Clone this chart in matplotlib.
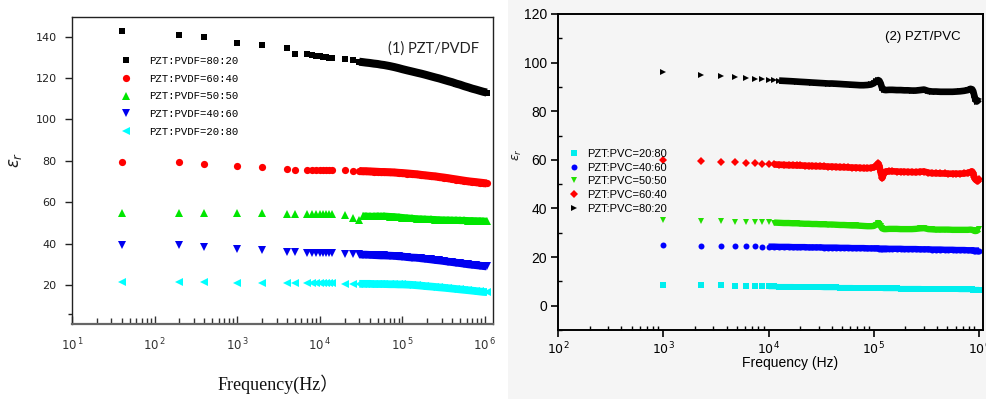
import matplotlib
matplotlib.use("Agg")
import matplotlib.pyplot as plt
from matplotlib.ticker import FixedLocator, NullFormatter, LogLocator, MultipleLocator
from matplotlib.patches import Rectangle

# ---------------- data: (1) PZT/PVDF ----------------
freq_pvdf = [40, 200, 400, 1000, 2000, 4000, 5000, 7000, 8000, 9000,
             10000, 11000, 12000, 13000, 14000, 20000, 25000, 30000, 33000, 36000,
             40000, 45000, 50000, 55000, 60000, 70000, 80000, 90000, 100000, 115000,
             130000, 150000, 170000, 190000, 220000, 250000, 280000, 320000, 360000, 400000,
             450000, 500000, 560000, 630000, 700000, 780000, 860000, 950000, 1050000]
pvdf_80_20 = [142.5, 141.0, 140.0, 137.0, 136.0, 134.5, 131.5, 131.5, 131.0, 130.8,
              130.5, 130.3, 130.0, 129.8, 129.5, 129.0, 128.5, 127.9, 127.7, 127.5,
              127.3, 127.0, 126.8, 126.5, 126.3, 125.8, 125.3, 124.8, 124.3, 123.7,
              123.2, 122.6, 122.1, 121.6, 120.9, 120.3, 119.8, 119.1, 118.5, 118.0,
              117.3, 116.8, 116.1, 115.5, 114.9, 114.4, 113.9, 113.4, 113.0]
pvdf_60_40 = [79.5, 79.3, 78.6, 77.6, 77.2, 76.0, 75.8, 75.6, 75.6, 75.5,
              75.5, 75.5, 75.4, 75.4, 75.4, 75.4, 75.2, 75.1, 75.0, 75.0,
              74.9, 74.8, 74.7, 74.6, 74.6, 74.5, 74.4, 74.2, 74.1, 73.9,
              73.7, 73.5, 73.2, 73.0, 72.7, 72.5, 72.2, 71.9, 71.6, 71.3,
              71.0, 70.7, 70.4, 70.1, 69.9, 69.7, 69.5, 69.3, 69.1]
pvdf_50_50 = [55.0, 55.0, 55.0, 54.8, 54.7, 54.3, 54.3, 54.2, 54.2, 54.2,
              54.2, 54.2, 54.2, 54.2, 54.1, 54.0, 52.4, 51.6, 53.3, 53.3,
              53.2, 53.2, 53.3, 53.2, 53.3, 53.1, 53.0, 52.8, 52.6, 52.4,
              52.2, 52.0, 51.9, 51.8, 51.7, 51.6, 51.5, 51.4, 51.4, 51.3,
              51.3, 51.2, 51.2, 51.1, 51.1, 51.0, 51.0, 50.9, 50.8]
pvdf_40_60 = [39.5, 39.2, 38.4, 37.4, 36.8, 36.0, 35.8, 35.6, 35.5, 35.5,
              35.5, 35.5, 35.5, 35.4, 35.4, 35.2, 35.0, 34.8, 34.7, 34.7,
              34.6, 34.5, 34.4, 34.3, 34.3, 34.2, 34.1, 33.9, 33.8, 33.5,
              33.3, 33.2, 32.9, 32.7, 32.4, 32.1, 31.9, 31.6, 31.3, 31.1,
              30.8, 30.6, 30.3, 30.0, 29.8, 29.6, 29.4, 29.2, 29.0]
pvdf_20_80 = [21.6, 21.6, 21.5, 21.2, 21.2, 21.1, 21.0, 20.9, 20.8, 20.8,
              20.8, 20.8, 20.8, 20.8, 20.8, 20.7, 20.7, 20.6, 20.6, 20.6,
              20.6, 20.5, 20.5, 20.5, 20.5, 20.4, 20.4, 20.3, 20.3, 20.2,
              20.1, 19.9, 19.7, 19.5, 19.3, 19.1, 18.9, 18.7, 18.5, 18.3,
              18.1, 17.9, 17.7, 17.5, 17.3, 17.1, 16.9, 16.7, 16.6]
labels_pvdf = ["PZT:PVDF=80:20", "PZT:PVDF=60:40", "PZT:PVDF=50:50",
               "PZT:PVDF=40:60", "PZT:PVDF=20:80"]

# ---------------- data: (2) PZT/PVC ----------------
freq_pvc = [1000, 2300, 3500, 4800, 6100, 7400, 8700, 10000, 11300, 12600,
            14000, 15500, 17000, 18500, 20000, 22000, 24000, 26000, 28500, 31000,
            34000, 37000, 40000, 44000, 48000, 52000, 57000, 62000, 68000, 74000,
            80000, 87000, 94000, 100000, 105000, 110000, 113000, 116000, 120000, 125000,
            130000, 140000, 150000, 165000, 180000, 195000, 210000, 230000, 250000, 275000,
            300000, 330000, 360000, 390000, 430000, 470000, 510000, 560000, 610000, 660000,
            720000, 780000, 830000, 860000, 880000, 900000, 920000, 950000, 980000, 1000000]
pvc_80_20 = [96.1, 95.0, 94.3, 93.9, 93.6, 93.3, 93.1, 92.9, 92.8, 92.6,
             92.5, 92.4, 92.3, 92.2, 92.1, 92.0, 91.9, 91.8, 91.7, 91.6,
             91.5, 91.4, 91.4, 91.3, 91.2, 91.1, 91.0, 90.9, 90.8, 90.7,
             90.7, 90.8, 91.0, 91.5, 92.3, 92.8, 92.5, 91.5, 89.5, 88.8,
             88.7, 88.8, 88.8, 88.7, 88.7, 88.6, 88.6, 88.5, 88.5, 88.7,
             88.9, 88.3, 88.1, 88.1, 88.0, 88.0, 88.0, 88.0, 88.1, 88.2,
             88.4, 88.7, 89.2, 89.0, 88.2, 86.5, 85.0, 84.0, 84.5, 85.0]
pvc_60_40 = [60.0, 59.5, 59.2, 59.0, 58.7, 58.5, 58.3, 58.2, 58.1, 58.0,
             57.9, 57.8, 57.8, 57.7, 57.7, 57.6, 57.5, 57.5, 57.4, 57.4,
             57.3, 57.2, 57.2, 57.1, 57.0, 57.0, 56.9, 56.8, 56.8, 56.7,
             56.6, 56.6, 56.7, 56.9, 57.5, 58.5, 57.5, 55.0, 52.5, 54.5,
             55.2, 55.3, 55.3, 55.2, 55.1, 55.1, 55.0, 55.0, 54.9, 55.1,
             55.2, 54.7, 54.5, 54.5, 54.4, 54.4, 54.3, 54.3, 54.3, 54.3,
             54.4, 54.6, 55.0, 55.2, 54.5, 53.0, 52.0, 51.5, 51.5, 52.0]
pvc_50_50 = [35.3, 35.0, 34.8, 34.6, 34.6, 34.4, 34.3, 34.3, 34.2, 34.1,
             34.0, 34.0, 33.9, 33.9, 33.8, 33.7, 33.7, 33.6, 33.6, 33.5,
             33.5, 33.4, 33.4, 33.3, 33.2, 33.2, 33.1, 33.0, 33.0, 32.9,
             32.8, 32.7, 32.7, 32.8, 33.3, 34.0, 33.8, 32.8, 31.8, 31.5,
             31.5, 31.6, 31.6, 31.6, 31.5, 31.5, 31.5, 31.5, 31.6, 31.8,
             31.9, 31.5, 31.4, 31.3, 31.3, 31.3, 31.3, 31.2, 31.2, 31.2,
             31.2, 31.2, 31.3, 31.2, 31.0, 30.8, 30.7, 30.8, 31.2, 31.5]
pvc_40_60 = [24.8, 24.7, 24.6, 24.5, 24.4, 24.4, 24.3, 24.3, 24.3, 24.2,
             24.2, 24.2, 24.1, 24.1, 24.1, 24.1, 24.0, 24.0, 24.0, 24.0,
             23.9, 23.9, 23.9, 23.9, 23.8, 23.8, 23.8, 23.7, 23.7, 23.7,
             23.7, 23.6, 23.6, 23.6, 23.6, 23.6, 23.5, 23.5, 23.5, 23.5,
             23.5, 23.4, 23.4, 23.4, 23.4, 23.3, 23.3, 23.3, 23.3, 23.2,
             23.2, 23.2, 23.1, 23.1, 23.1, 23.0, 23.0, 23.0, 22.9, 22.9,
             22.9, 22.8, 22.8, 22.8, 22.8, 22.7, 22.7, 22.7, 22.7, 22.7]
pvc_20_80 = [8.6, 8.5, 8.4, 8.1, 8.0, 8.0, 7.9, 7.9, 7.9, 7.8,
             7.8, 7.8, 7.8, 7.7, 7.7, 7.7, 7.6, 7.6, 7.6, 7.6,
             7.5, 7.5, 7.5, 7.5, 7.4, 7.4, 7.4, 7.4, 7.3, 7.3,
             7.3, 7.3, 7.2, 7.2, 7.2, 7.2, 7.2, 7.2, 7.2, 7.1,
             7.1, 7.1, 7.1, 7.1, 7.0, 7.0, 7.0, 7.0, 7.0, 7.0,
             6.9, 6.9, 6.9, 6.9, 6.8, 6.8, 6.8, 6.8, 6.8, 6.7,
             6.7, 6.7, 6.7, 6.7, 6.6, 6.6, 6.6, 6.6, 6.6, 6.6]
labels_pvc = ["PZT:PVC=20:80", "PZT:PVC=40:60", "PZT:PVC=50:50",
              "PZT:PVC=60:40", "PZT:PVC=80:20"]

left_ticks = [20, 40, 60, 80, 100, 120, 140]
right_ticks = [0, 20, 40, 60, 80, 100, 120]

W, H = 986, 399
fig = plt.figure(figsize=(W / 100, H / 100), dpi=100)
fig.patch.set_facecolor("white")

# textured light background for the right half
fig.add_artist(Rectangle((508 / W, 0), 1 - 508 / W, 1, transform=fig.transFigure,
                         facecolor="#f5f5f5", edgecolor="none", zorder=-10))

def px(x0, y0, x1, y1):
    return [x0 / W, 1 - y1 / H, (x1 - x0) / W, (y1 - y0) / H]

# ---------------- left panel ----------------
ax1 = fig.add_axes(px(72, 17, 493, 324))
ax1.set_xscale("log")
ax1.set_xlim(10, 1.25e6)
ax1.set_ylim(1.2, 149.5)
# (values, marker, colour, marker size, band width, index where the dense sweep starts)
series1 = [(pvdf_80_20, "s", "black", 4.6, 5.8, 17), (pvdf_60_40, "o", "#ff0000", 5.2, 5.8, 17),
           (pvdf_50_50, "^", "#00e600", 5.4, 5.2, 18), (pvdf_40_60, "v", "#0000f0", 5.4, 5.6, 17),
           (pvdf_20_80, "<", "#00ffff", 5.4, 5.6, 17)]
handles1 = []
for (vals, mk, col, ms, lw, i0), lab in zip(series1, labels_pvdf):
    ax1.plot(freq_pvdf[i0:], vals[i0:], linestyle="-", color=col, linewidth=lw,
             solid_capstyle="butt")
    h, = ax1.plot(freq_pvdf, vals, linestyle="none", marker=mk, color=col,
                  markersize=ms, markeredgewidth=0, label=lab)
    handles1.append(h)

for s in ["top", "right", "left"]:
    ax1.spines[s].set_color("#222222")
    ax1.spines[s].set_linewidth(1.0)
ax1.spines["bottom"].set_color("#666666")
ax1.spines["bottom"].set_linewidth(1.6)

ax1.yaxis.set_major_locator(FixedLocator(left_ticks))
ax1.yaxis.set_minor_locator(FixedLocator([6]))
ax1.tick_params(axis="y", which="both", direction="out", length=5, width=1,
                labelsize=8, colors="#222222", pad=6)
ax1.tick_params(axis="y", which="minor", length=3)
ax1.xaxis.set_major_locator(FixedLocator([1e1, 1e2, 1e3, 1e4, 1e5, 1e6]))
ax1.xaxis.set_minor_locator(LogLocator(base=10, subs=[2, 3, 4, 5, 6, 7, 8, 9]))
ax1.xaxis.set_minor_formatter(NullFormatter())
ax1.set_xticklabels([r"$10^{\,1}$", r"$10^{\,2}$", r"$10^{\,3}$", r"$10^{\,4}$",
                     r"$10^{\,5}$", r"$10^{\,6}$"])
ax1.tick_params(axis="x", which="major", direction="in", length=6, width=1,
                labelsize=8.5, colors="#333333", pad=9)
ax1.tick_params(axis="x", which="minor", direction="in", length=4, width=1,
                colors="#333333")
for lbl in ax1.get_yticklabels():
    lbl.set_family("DejaVu Sans")

fig.text(15 / W, 1 - 160 / H, r"$\varepsilon_r$", rotation=90, fontsize=12,
         ha="center", va="center", color="#222222")
fig.text(278 / W, 1 - 384 / H, "Frequency(Hz）", fontsize=13, ha="center", va="center",
         family=["Liberation Serif", "Noto Sans CJK SC"], color="#111111")
fig.text(388 / W, 1 - 49 / H, "(1) PZT/PVDF", fontsize=10.5, ha="left", va="center",
         family="Lato", color="#222222")

leg1 = ax1.legend(handles=handles1, loc="upper left",
                  bbox_to_anchor=(121 / W, 1 - 56 / H), bbox_transform=fig.transFigure,
                  frameon=False, prop={"family": "Liberation Mono", "size": 7.7},
                  handlelength=1.0, handletextpad=1.6, labelspacing=0.72,
                  borderpad=0, borderaxespad=0, markerscale=1.0)

# ---------------- right panel ----------------
ax2 = fig.add_axes(px(558, 14, 983, 330))
ax2.set_facecolor("#f5f5f5")
ax2.set_xscale("log")
ax2.set_xlim(100, 1.09e6)
ax2.set_ylim(-10, 120)
series2 = [(pvc_20_80, "s", "#00eeee", 3.8, 4.0, 7), (pvc_40_60, "o", "#0000ff", 4.3, 4.6, 7),
           (pvc_50_50, "v", "#22e000", 4.6, 4.6, 8), (pvc_60_40, "D", "#ff0000", 3.8, 4.8, 8),
           (pvc_80_20, ">", "black", 4.4, 4.8, 9)]
handles2 = []
for (vals, mk, col, ms, lw, i0), lab in zip(series2, labels_pvc):
    ax2.plot(freq_pvc[i0:], vals[i0:], linestyle="-", color=col, linewidth=lw,
             solid_capstyle="butt")
    h, = ax2.plot(freq_pvc, vals, linestyle="none", marker=mk, color=col,
                  markersize=ms, markeredgewidth=0, label=lab)
    handles2.append(h)

for s in ax2.spines.values():
    s.set_color("black")
    s.set_linewidth(1.4)
ax2.yaxis.set_major_locator(FixedLocator(right_ticks))
ax2.yaxis.set_minor_locator(MultipleLocator(10))
ax2.xaxis.set_major_locator(FixedLocator([1e2, 1e3, 1e4, 1e5, 1e6]))
ax2.xaxis.set_minor_locator(LogLocator(base=10, subs=[2, 3, 4, 5, 6, 7, 8, 9]))
ax2.xaxis.set_minor_formatter(NullFormatter())
ax2.set_xticklabels([r"$10^2$", r"$10^3$", r"$10^4$", r"$10^5$", r"$10^6$"])
ax2.tick_params(axis="both", which="major", direction="out", length=5, width=1.2,
                labelsize=10, colors="black", pad=3)
ax2.tick_params(axis="x", which="major", labelsize=9, pad=3)
ax2.tick_params(axis="both", which="minor", direction="in", length=3, width=1.0)
for lbl in ax2.get_yticklabels():
    lbl.set_family("Liberation Sans")

fig.text(517 / W, 1 - 155 / H, r"$\varepsilon_r$", rotation=90, fontsize=9,
         ha="center", va="center", color="#222222")
fig.text(790 / W, 1 - 363 / H, "Frequency (Hz)", fontsize=10, ha="center", va="center",
         family="Liberation Sans", color="black")
fig.text(885 / W, 1 - 37 / H, "(2) PZT/PVC", fontsize=9.5, ha="left", va="center",
         family="Liberation Sans", color="black")

leg2 = ax2.legend(handles=handles2, loc="upper left",
                  bbox_to_anchor=(568 / W, 1 - 149 / H), bbox_transform=fig.transFigure,
                  frameon=False, prop={"family": "Liberation Sans", "size": 8},
                  handlelength=1.0, handletextpad=0.7, labelspacing=0.33,
                  borderpad=0, borderaxespad=0, markerscale=1.0)

fig.savefig("out.png", dpi=100, facecolor="white")
